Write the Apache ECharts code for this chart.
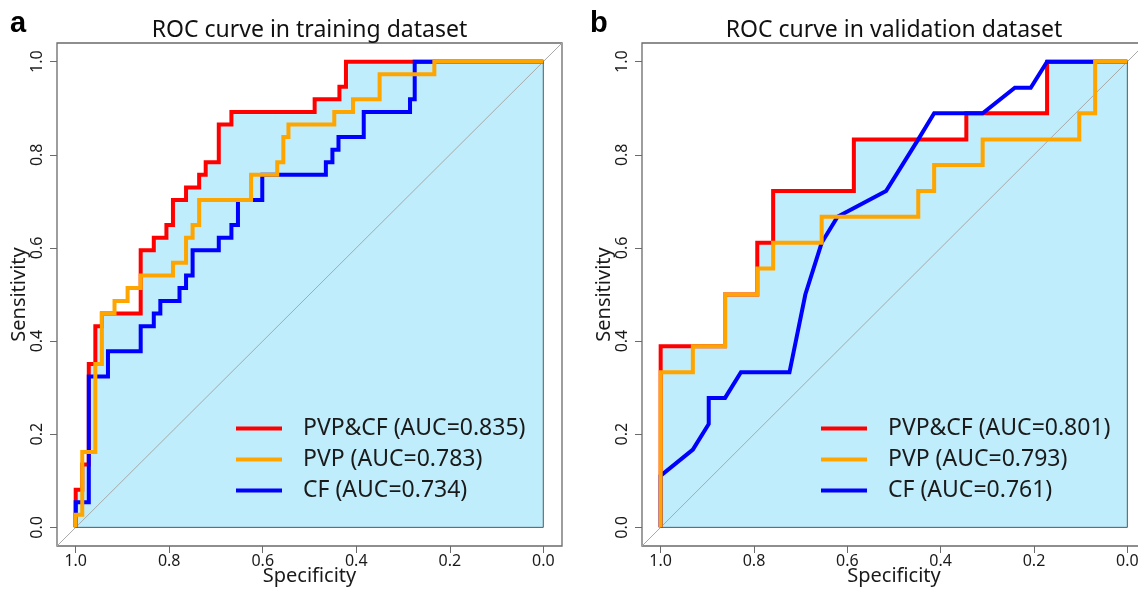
<!DOCTYPE html>
<html>
<head>
<meta charset="utf-8">
<script src="https://cdn.jsdelivr.net/npm/echarts@6/dist/echarts.min.js"></script>
<style>
html,body{margin:0;padding:0;background:#ffffff;}
#chart{width:1138px;height:589px;}
</style>
</head>
<body>
<div id="chart"></div>
<script>
// ---------- data ----------
const axisTicks = [0, 0.2, 0.4, 0.6, 0.8, 1.0];
const panelLetters = ['a', 'b'];
const panelTitles = ['ROC curve in training dataset', 'ROC curve in validation dataset'];
const xAxisTitle = 'Specificity';
const yAxisTitle = 'Sensitivity';

const trainNames = ['PVP&CF (AUC=0.835)', 'PVP (AUC=0.783)', 'CF (AUC=0.734)'];
const validNames = ['PVP&CF (AUC=0.801)', 'PVP (AUC=0.793)', 'CF (AUC=0.761)'];

// training set ROC corners (specificity, sensitivity), step curves
const trainComboSpec = [1, 1, 0.986, 0.972, 0.958, 0.944, 0.861, 0.833, 0.806, 0.792, 0.764, 0.736, 0.722, 0.694, 0.667, 0.489, 0.436, 0.422, 0];
const trainComboSens = [0, 0.081, 0.135, 0.351, 0.432, 0.459, 0.595, 0.622, 0.649, 0.703, 0.730, 0.757, 0.784, 0.865, 0.892, 0.919, 0.946, 1, 1];

const trainPvpSpec = [1, 1, 0.986, 0.958, 0.944, 0.917, 0.889, 0.861, 0.792, 0.764, 0.750, 0.736, 0.625, 0.569, 0.556, 0.545, 0.447, 0.407, 0.350, 0.233, 0];
const trainPvpSens = [0, 0.027, 0.162, 0.351, 0.459, 0.486, 0.514, 0.541, 0.568, 0.622, 0.649, 0.703, 0.757, 0.784, 0.838, 0.865, 0.892, 0.919, 0.973, 1, 1];

const trainCfSpec = [1, 1, 0.972, 0.931, 0.861, 0.833, 0.819, 0.778, 0.764, 0.750, 0.694, 0.667, 0.653, 0.601, 0.465, 0.451, 0.438, 0.384, 0.285, 0.275, 0];
const trainCfSens = [0, 0.054, 0.324, 0.378, 0.432, 0.459, 0.486, 0.514, 0.541, 0.595, 0.622, 0.649, 0.703, 0.757, 0.784, 0.811, 0.838, 0.892, 0.919, 1, 1];

// validation set
const validComboSpec = [1, 1, 0.862, 0.793, 0.759, 0.586, 0.345, 0.172, 0];
const validComboSens = [0, 0.389, 0.5, 0.611, 0.722, 0.833, 0.889, 1, 1];

const validPvpSpec = [1, 1, 0.931, 0.862, 0.793, 0.759, 0.655, 0.448, 0.414, 0.310, 0.103, 0.069, 0];
const validPvpSens = [0, 0.333, 0.389, 0.5, 0.556, 0.611, 0.667, 0.722, 0.778, 0.833, 0.889, 1, 1];

// CF validation curve is a polyline (ties)
const validCfSpec = [1, 1, 0.931, 0.897, 0.897, 0.862, 0.828, 0.724, 0.690, 0.655, 0.621, 0.517, 0.448, 0.414, 0.310, 0.241, 0.207, 0.172, 0];
const validCfSens = [0, 0.111, 0.167, 0.222, 0.278, 0.278, 0.333, 0.333, 0.5, 0.611, 0.667, 0.722, 0.833, 0.889, 0.889, 0.944, 0.944, 1, 1];

// reference lines
const diagSpec = [1.04, -0.04];
const diagSens = [-0.04, 1.04];
const aucEdgeSpec = [0, 0, 1];
const aucEdgeSens = [1, 0, 0];

// ---------- styling ----------
const FONT = '"Noto Sans", "Open Sans", sans-serif';
const RED = '#ff0000', ORANGE = '#ffa500', BLUE = '#0000ff';
const FILL = '#bfedfb';
const BOX = '#6a6a6a';

function zip(a, b) { return a.map((v, i) => [v, b[i]]); }

const grids = [
  { left: 57, top: 43, width: 505, height: 503 },
  { left: 642, top: 43, width: 504, height: 503 }
];

function makeX(gi) {
  return {
    gridIndex: gi, type: 'value', min: -0.04, max: 1.04, inverse: true,
    axisLine: { show: false, onZero: false },
    splitLine: { show: false },
    axisTick: { show: true, length: 7, customValues: axisTicks, lineStyle: { color: BOX, width: 1 } },
    axisLabel: { customValues: axisTicks, formatter: v => v.toFixed(1), fontSize: 16, fontFamily: FONT, color: '#1a1a1a', margin: 7 },
    name: xAxisTitle, nameLocation: 'middle', nameGap: 20, nameMoveOverlap: false,
    nameTextStyle: { fontSize: 20, fontFamily: FONT, color: '#1a1a1a' }
  };
}
function makeY(gi) {
  return {
    gridIndex: gi, type: 'value', min: -0.04, max: 1.04,
    axisLine: { show: false, onZero: false },
    splitLine: { show: false },
    axisTick: { show: true, length: 7, customValues: axisTicks, lineStyle: { color: BOX, width: 1 } },
    axisLabel: { customValues: axisTicks, formatter: v => v.toFixed(1), fontSize: 16, fontFamily: FONT, color: '#1a1a1a', margin: 12, rotate: 90 },
    name: yAxisTitle, nameLocation: 'middle', nameGap: 28, nameMoveOverlap: false,
    nameTextStyle: { fontSize: 20, fontFamily: FONT, color: '#1a1a1a' }
  };
}

function curve(name, spec, sens, color, gi, step) {
  return {
    type: 'line', name: name, xAxisIndex: gi, yAxisIndex: gi,
    data: zip(spec, sens), step: step ? 'end' : false,
    symbol: 'none', showSymbol: false, animation: false, silent: true,
    lineStyle: { color: color, width: 4, join: 'miter' },
    itemStyle: { color: color }
  };
}
function fill(spec, sens, gi) {
  return {
    type: 'line', name: 'auc-fill-' + gi, xAxisIndex: gi, yAxisIndex: gi,
    data: zip(spec, sens), step: 'end', symbol: 'none', animation: false, silent: true,
    lineStyle: { width: 0, opacity: 0 },
    areaStyle: { color: FILL, opacity: 1 }
  };
}
function refLine(name, spec, sens, color, gi) {
  return {
    type: 'line', name: name, xAxisIndex: gi, yAxisIndex: gi,
    data: zip(spec, sens), symbol: 'none', animation: false, silent: true,
    lineStyle: { color: color, width: 1 }
  };
}

function panelSeries(gi, names, combo, pvp, cf, cfStep) {
  return [
    fill(combo[0], combo[1], gi),
    refLine('edge-' + gi, aucEdgeSpec, aucEdgeSens, '#4b5a60', gi),
    refLine('diag-' + gi, diagSpec, diagSens, '#a8a8a8', gi),
    curve(names[0], combo[0], combo[1], RED, gi, true),
    curve(names[2], cf[0], cf[1], BLUE, gi, cfStep),
    curve(names[1], pvp[0], pvp[1], ORANGE, gi, true)
  ];
}

function legendFor(names, left) {
  return {
    data: names, orient: 'vertical', left: left, top: 412,
    itemWidth: 46, itemHeight: 4, itemGap: 8, icon: 'rect', selectedMode: false,
    padding: 5,
    textStyle: { fontSize: 23, lineHeight: 23, fontFamily: FONT, color: '#1a1a1a', padding: [0, 0, 0, 16] }
  };
}

const option = {
  backgroundColor: '#ffffff',
  animation: false,
  grid: grids.map(g => Object.assign({ show: true, borderColor: BOX, borderWidth: 1.3, backgroundColor: 'transparent', containLabel: false, outerBoundsMode: 'none' }, g)),
  xAxis: [makeX(0), makeX(1)],
  yAxis: [makeY(0), makeY(1)],
  legend: [legendFor(trainNames, 231), legendFor(validNames, 816)],
  graphic: [
    { type: 'text', x: 10, y: 23.5, style: { text: panelLetters[0], font: 'bold 29px "Liberation Sans", Arial, sans-serif', fill: '#000', align: 'left', verticalAlign: 'middle' } },
    { type: 'text', x: 590, y: 23.5, style: { text: panelLetters[1], font: 'bold 29px "Liberation Sans", Arial, sans-serif', fill: '#000', align: 'left', verticalAlign: 'middle' } },
    { type: 'text', x: 309.5, y: 30, style: { text: panelTitles[0], font: '23px ' + FONT, fill: '#111', align: 'center', verticalAlign: 'middle' } },
    { type: 'text', x: 894, y: 30, style: { text: panelTitles[1], font: '23px ' + FONT, fill: '#111', align: 'center', verticalAlign: 'middle' } }
  ],
  series: [].concat(
    panelSeries(0, trainNames, [trainComboSpec, trainComboSens], [trainPvpSpec, trainPvpSens], [trainCfSpec, trainCfSens], true),
    panelSeries(1, validNames, [validComboSpec, validComboSens], [validPvpSpec, validPvpSens], [validCfSpec, validCfSens], false)
  )
};

const chart = echarts.init(document.getElementById('chart'), null, { renderer: 'canvas' });
chart.setOption(option);
</script>
</body>
</html>
